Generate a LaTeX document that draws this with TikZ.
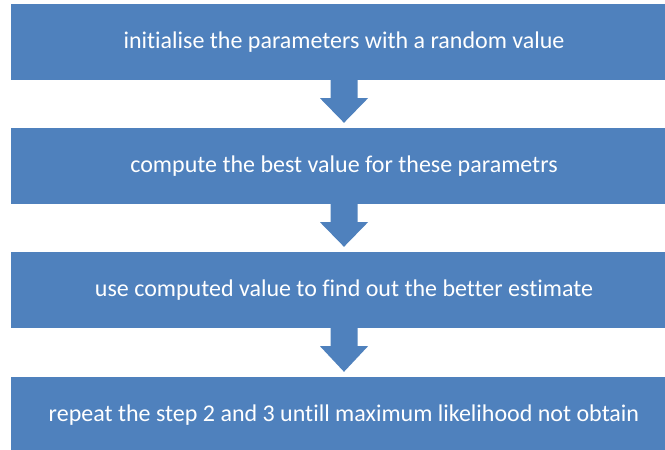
\documentclass[tikz,border=0pt]{standalone}
\usepackage{fontspec}
\setmainfont[Ligatures=NoCommon]{Carlito}
\usepackage{tikz}
\usetikzlibrary{calc}
\definecolor{boxblue}{RGB}{79,129,189}
\tikzset{stepbox/.style={rectangle, fill=boxblue, text=white, inner sep=0pt,
  minimum width=666pt, minimum height=76pt, font=\fontsize{24}{28}\selectfont}}
%Blockpfeil von Kasten #1 nach Kasten #2
\newcommand{\blockarrow}[2]{%
  \fill[boxblue] ($(#1.south)+(-13.5,-1)$) -- ($(#1.south)+(-13.5,18)$)
    -- ($(#1.south)+(-24,18)$) -- ($(#2.north)+(0,-5)$)
    -- ($(#1.south)+(24,18)$) -- ($(#1.south)+(13.5,18)$)
    -- ($(#1.south)+(13.5,-1)$) -- cycle;}

\begin{document}
\begin{tikzpicture}[x=1pt,y=-1pt]
  \clip (0,0) rectangle (665,450);
  \useasboundingbox (0,0) rectangle (665,450);
  %Kaesten
  \node[stepbox] (init) at (344,42) {initialise the parameters with a random value};
  \node[stepbox] (compute) at (344,166) {compute the best value for these parametrs};
  \node[stepbox] (estimate) at (344,290) {use computed value to find out the better estimate};
  \node[stepbox] (repeat) at (344,415) {repeat the step 2 and 3 untill maximum likelihood not obtain};
  %Pfeile
  \blockarrow{init}{compute}
  \blockarrow{compute}{estimate}
  \blockarrow{estimate}{repeat}
\end{tikzpicture}
\end{document}
